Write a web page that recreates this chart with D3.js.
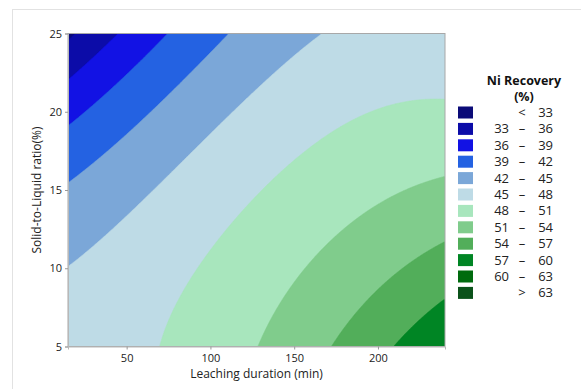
<!DOCTYPE html>
<html><head><meta charset="utf-8">
<script src="https://cdn.jsdelivr.net/npm/d3@7"></script>
<style>body{margin:0;background:#fff;} svg{display:block;}</style>
</head><body><svg id="c" width="581" height="389"></svg>
<script>
// ---- data ----
const xDomain = [15, 240];          // Leaching duration (min)
const yDomain = [5, 25];            // Solid-to-Liquid ratio (%)
const xTicks = [50, 100, 150, 200];
const yTicks = [5, 10, 15, 20, 25];
const levels = [33, 36, 39, 42, 45, 48, 51, 54, 57, 60, 63];
const legendLow  = [null, 33, 36, 39, 42, 45, 48, 51, 54, 57, 60, null];
const legendHigh = [33, 36, 39, 42, 45, 48, 51, 54, 57, 60, 63, 63];
const legendSym  = ["<", "–", "–", "–", "–", "–", "–", "–", "–", "–", "–", ">"];
const bandColors = ["#0b0b78", "#0c0ca8", "#1212e4", "#2462e2", "#7ba7d8", "#bedbe6",
                    "#a8e6bd", "#80cc8c", "#52ae5a", "#008524", "#006b0e", "#0b521a"];
// points [duration, ratio] lying on each contour level
const c33 = [[15.2, 24.6], [18.2, 25]];
const c36 = [[15.2, 22.0], [30.1, 23.5], [45.0, 25]];
const c39 = [[15.2, 19.04], [45.0, 21.9], [74.9, 25]];
const c42 = [[15.18, 15.35], [46.03, 18.19], [79.87, 21.6], [112.1, 25]];
const c45 = [[15.18, 10.11], [50.03, 13.61], [95.75, 18.19], [129.6, 21.6], [166.4, 25]];
const c48 = [[67.5, 5.0], [79.9, 7.97], [99.7, 11.17], [123.6, 14.58], [155.4, 17.56],
             [183.3, 19.29], [203.2, 20.25], [223.1, 20.76], [240, 21.0]];
const c51 = [[128.6, 5.0], [139.6, 6.48], [153.5, 9.04], [173.3, 12.02], [203.2, 14.26], [240, 15.7]];
const c54 = [[172.4, 5.0], [181.3, 6.48], [193.3, 8.19], [213.1, 10.1], [240, 11.52]];
const c57 = [[209.1, 5.0], [223.1, 6.73], [240, 7.96]];
const contourPts = [[33, c33], [36, c36], [39, c39], [42, c42], [45, c45],
                    [48, c48], [51, c51], [54, c54], [57, c57]];

// ---- fit a smooth response surface through the read contour points ----
const xc = (xDomain[0] + xDomain[1]) / 2, xh = (xDomain[1] - xDomain[0]) / 2;
const yc = (yDomain[0] + yDomain[1]) / 2, yh = (yDomain[1] - yDomain[0]) / 2;
function terms(t, r) {
  const u = (t - xc) / xh, v = (r - yc) / yh;
  return [1, u, v, u*u, u*v, v*v, u*u*u, u*u*v, u*v*v, v*v*v];
}
function solve(A, b) {
  const n = b.length, M = A.map((r, i) => [...r, b[i]]);
  for (let k = 0; k < n; k++) {
    let p = k;
    for (let i = k + 1; i < n; i++) if (Math.abs(M[i][k]) > Math.abs(M[p][k])) p = i;
    [M[k], M[p]] = [M[p], M[k]];
    for (let i = k + 1; i < n; i++) {
      const f = M[i][k] / M[k][k];
      for (let j = k; j <= n; j++) M[i][j] -= f * M[k][j];
    }
  }
  const x = new Array(n);
  for (let i = n - 1; i >= 0; i--) {
    let s = M[i][n];
    for (let j = i + 1; j < n; j++) s -= M[i][j] * x[j];
    x[i] = s / M[i][i];
  }
  return x;
}
const nT = 10;
const ATA = Array.from({length: nT}, () => new Array(nT).fill(0));
const ATz = new Array(nT).fill(0);
contourPts.forEach(([z, pts]) => pts.forEach(([t, r]) => {
  const f = terms(t, r);
  for (let i = 0; i < nT; i++) { ATz[i] += f[i] * z; for (let j = 0; j < nT; j++) ATA[i][j] += f[i] * f[j]; }
}));
const coef = solve(ATA, ATz);
const surface = (t, r) => terms(t, r).reduce((s, f, i) => s + f * coef[i], 0);

// ---- layout ----
const svg = d3.select("#c");
const font = "'Open Sans', 'Noto Sans', sans-serif";
const x = d3.scaleLinear().domain(xDomain).range([68, 445]);
const y = d3.scaleLinear().domain(yDomain).range([346.5, 33.5]);

// outer frame
svg.append("rect").attr("x", 12.5).attr("y", 9.5).attr("width", 620).attr("height", 420)
  .attr("fill", "none").attr("stroke", "#e2e2e2");

// grid of surface values
const nx = 300, ny = 260;
const values = new Float64Array(nx * ny);
for (let j = 0; j < ny; j++) {
  const r = yDomain[1] - (j + 0.5) * (yDomain[1] - yDomain[0]) / ny;
  for (let i = 0; i < nx; i++) {
    const t = xDomain[0] + (i + 0.5) * (xDomain[1] - xDomain[0]) / nx;
    values[j * nx + i] = surface(t, r);
  }
}
const contours = d3.contours().size([nx, ny]).thresholds(levels)(values);
const proj = d3.geoTransform({point: function(gx, gy) {
  this.stream.point(
    x(xDomain[0] + gx * (xDomain[1] - xDomain[0]) / nx),
    y(yDomain[1] - gy * (yDomain[1] - yDomain[0]) / ny));
}});
const path = d3.geoPath(proj);

svg.append("clipPath").attr("id", "clip").append("rect")
  .attr("x", x(xDomain[0])).attr("y", y(yDomain[1]))
  .attr("width", x(xDomain[1]) - x(xDomain[0])).attr("height", y(yDomain[0]) - y(yDomain[1]));
const g = svg.append("g").attr("clip-path", "url(#clip)");
g.append("rect")
  .attr("x", x(xDomain[0])).attr("y", y(yDomain[1]))
  .attr("width", x(xDomain[1]) - x(xDomain[0])).attr("height", y(yDomain[0]) - y(yDomain[1]))
  .attr("fill", bandColors[0]);
g.selectAll("path.band").data(contours).join("path").attr("class", "band")
  .attr("d", path)
  .attr("fill", (d, i) => bandColors[i + 1])
  .attr("stroke", (d, i) => bandColors[i + 1]).attr("stroke-width", 0.5);

// plot border
svg.append("rect")
  .attr("x", x(xDomain[0])).attr("y", y(yDomain[1]))
  .attr("width", x(xDomain[1]) - x(xDomain[0])).attr("height", y(yDomain[0]) - y(yDomain[1]))
  .attr("fill", "none").attr("stroke", "#a8a8a8").attr("stroke-width", 1);

// axes
const ax = svg.append("g").attr("transform", `translate(0,${y(yDomain[0])})`)
  .call(d3.axisBottom(x).tickValues(xTicks).tickSize(3).tickPadding(5));
const ay = svg.append("g").attr("transform", `translate(${x(xDomain[0])},0)`)
  .call(d3.axisLeft(y).tickValues(yTicks).tickSize(3).tickPadding(3));
[ax, ay].forEach(a => {
  a.select(".domain").attr("stroke", "#b8b8b8");
  a.selectAll(".tick line").attr("stroke", "#999");
  a.selectAll(".tick text").attr("fill", "#222").style("font-family", font).style("font-size", "11px");
});

// axis titles
svg.append("text").attr("x", (x(xDomain[0]) + x(xDomain[1])) / 2).attr("y", 378)
  .attr("text-anchor", "middle").style("font-family", font).style("font-size", "12px")
  .attr("fill", "#222").text("Leaching duration (min)");
svg.append("text").attr("transform", `translate(41,${(y(yDomain[0]) + y(yDomain[1])) / 2}) rotate(-90)`)
  .attr("text-anchor", "middle").style("font-family", font).style("font-size", "12px")
  .attr("fill", "#222").text("Solid-to-Liquid ratio(%)");

// legend
const lg = svg.append("g");
lg.append("text").attr("x", 524).attr("y", 85).attr("text-anchor", "middle")
  .style("font-family", font).style("font-size", "12.5px").style("font-weight", "bold")
  .attr("fill", "#111").text("Ni Recovery");
lg.append("text").attr("x", 524).attr("y", 100.5).attr("text-anchor", "middle")
  .style("font-family", font).style("font-size", "12.5px").style("font-weight", "bold")
  .attr("fill", "#111").text("(%)");
bandColors.forEach((col, i) => {
  const cy = 112.5 + i * 16.4;
  lg.append("rect").attr("x", 458).attr("y", cy - 6).attr("width", 15).attr("height", 12).attr("fill", col);
  const ts = lg.append("g").style("font-family", font).style("font-size", "13px").attr("fill", "#222");
  if (legendLow[i] !== null)
    ts.append("text").attr("x", 509).attr("y", cy + 4.5).attr("text-anchor", "end").text(legendLow[i]);
  ts.append("text").attr("x", 522).attr("y", cy + 4.5).attr("text-anchor", "middle").text(legendSym[i]);
  ts.append("text").attr("x", 553).attr("y", cy + 4.5).attr("text-anchor", "end").text(legendHigh[i]);
});
</script></body></html>
